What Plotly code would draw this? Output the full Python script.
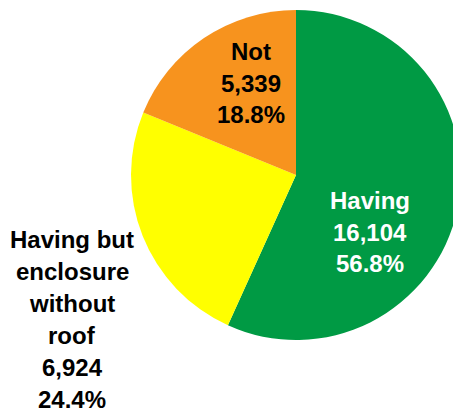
import plotly.graph_objects as go

labels = ["Having", "Having but enclosure without roof", "Not"]
label_lines = [["Having"], ["Having but", "enclosure", "without", "roof"], ["Not"]]
values = [16104, 6924, 5339]
percents = ["56.8%", "24.4%", "18.8%"]
colors = ["#009A44", "#FFFF00", "#F7931E"]
text_colors = ["white", "black", "black"]

# page body has an 8px default margin, so the figure is offset by (8, 8)
OFF = 8
W, H = 461 - OFF, 414 - OFF
cx, cy, r = 296 - OFF, 175 - OFF, 165

fig = go.Figure(go.Pie(
    labels=labels,
    values=values,
    sort=False,
    direction="clockwise",
    rotation=0,
    marker=dict(colors=colors, line=dict(width=0)),
    textinfo="none",
    hoverinfo="label+value+percent",
    showlegend=False,
    domain=dict(x=[(cx - r) / W, 1.0], y=[(H - cy - r) / H, min(1.0, (H - cy + r) / H)]),
))

# label block centres (window pixels from top-left) and line spacing, layout only
label_pos = [(370, 232), (72, 319), (251, 83)]
line_gap = [31.5, 32.0, 31.5]

for i in range(len(labels)):
    lines = label_lines[i] + [f"{values[i]:,}", percents[i]]
    px, py = label_pos[i]
    px, py = px - OFF, py - OFF
    n = len(lines)
    for j, ln in enumerate(lines):
        ly = py + (j - (n - 1) / 2) * line_gap[i]
        fig.add_annotation(
            x=px / W, y=(H - ly) / H, xref="paper", yref="paper",
            text=ln, showarrow=False, align="center",
            xanchor="center", yanchor="middle", borderpad=0,
            font=dict(family="Liberation Sans, Arial, sans-serif", size=24,
                      color=text_colors[i], weight="bold"),
        )

fig.update_layout(
    width=W, height=H,
    margin=dict(l=0, r=0, t=0, b=0),
    paper_bgcolor="white", plot_bgcolor="white",
)

fig.write_html("out.html")
